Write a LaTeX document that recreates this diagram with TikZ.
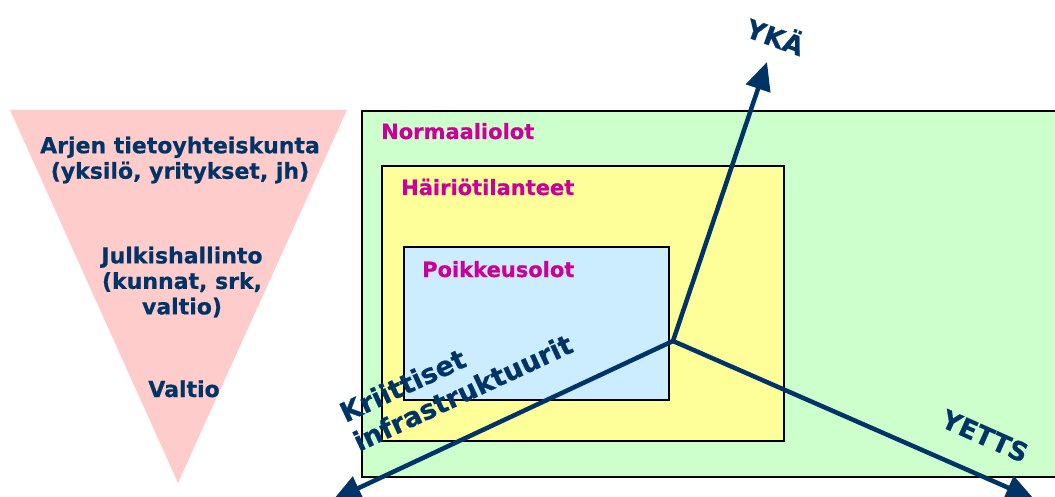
\documentclass[tikz,border=0pt]{standalone}
\usepackage{fontspec}
\setmainfont{DejaVu Sans}[BoldFeatures={FakeBold=0.6}]
\usetikzlibrary{arrows.meta}
\definecolor{navy}{HTML}{003366}
\definecolor{pinkfill}{HTML}{FFCCCC}
\definecolor{greenfill}{HTML}{CCFFCC}
\definecolor{yellowfill}{HTML}{FFFF99}
\definecolor{bluefill}{HTML}{CCECFF}
\definecolor{magentatext}{HTML}{CC0099}
\tikzset{
  zone/.style={draw=black, line width=1.5pt},
  zonelabel/.style={text=magentatext, font=\fontsize{21}{25}\selectfont\bfseries, anchor=base west, inner sep=0pt},
  tritext/.style={text=navy, font=\fontsize{22}{25.5}\selectfont\bfseries, align=center, inner sep=0pt},
  axis/.style={draw=navy, line width=4.5pt, -{Triangle[length=28pt,width=25pt]}},
  axislabel/.style={text=navy, font=\fontsize{26}{31}\selectfont\bfseries, inner sep=0pt},
}
\begin{document}
\begin{tikzpicture}[x=1pt,y=-1pt]
\useasboundingbox (0,0) rectangle (1055,497);
\clip (0,0) rectangle (1055,497);
% inverted triangle
\fill[pinkfill] (10,110) -- (347,110) -- (178,483) -- cycle;
\node[tritext] (arjen) at (180,160) {Arjen tietoyhteiskunta\\(yksilö, yritykset, jh)};
\node[tritext] (julkis) at (182,282) {Julkishallinto\\(kunnat, srk,\\valtio)};
\node[tritext, anchor=base] (valtio) at (184,397) {Valtio};
% nested zones
\draw[zone, fill=greenfill] (362,111) rectangle (1065,477);
\draw[zone, fill=yellowfill] (382,166) rectangle (784,441);
\draw[zone, fill=bluefill] (404,247) rectangle (669,400);
\node[zonelabel] (normaali) at (381,139) {Normaaliolot};
\node[zonelabel] (hairio) at (401,195) {Häiriötilanteet};
\node[zonelabel] (poikkeus) at (422,277) {Poikkeusolot};
% axes
\coordinate (O) at (673,341);
\coordinate (ykaTip) at (767,62);
\coordinate (yettsTip) at (1034,499);
\coordinate (kritTip) at (333,500);
\draw[axis] (O) -- (ykaTip);
\draw[axis] (O) -- (yettsTip);
\draw[axis] (O) -- (kritTip);
\node[axislabel, rotate=-20] (yka) at (776,35) {YKÄ};
\node[axislabel, rotate=-24] (yetts) at (985,436) {YETTS};
\node[axislabel, rotate=25, align=left, font=\fontsize{27}{32}\selectfont\bfseries] (krit) at (456,378) {Kriittiset\\infrastruktuurit};
\end{tikzpicture}
\end{document}
